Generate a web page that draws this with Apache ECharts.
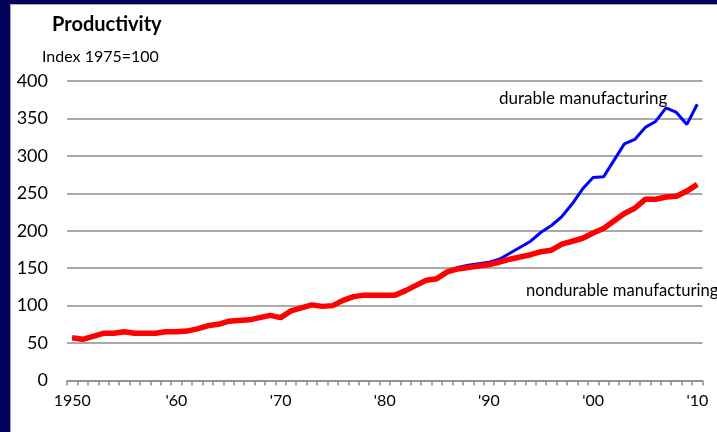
<!DOCTYPE html>
<html>
<head>
<meta charset="utf-8">
<script src="https://cdn.jsdelivr.net/npm/echarts@6/dist/echarts.min.js"></script>
<style>
html,body{margin:0;padding:0;width:717px;height:432px;overflow:hidden;background:#03035e;}
#panel{position:absolute;left:10px;top:4px;width:707px;height:428px;background:#fff;border-left:1px solid #a8a8a8;border-top:1px solid #a8a8a8;}
#chart{position:absolute;left:0;top:0;width:717px;height:432px;}
</style>
</head>
<body>
<div id="panel"></div>
<div id="chart"></div>
<script>
const years = [];
for (let y = 1950; y <= 2010; y++) years.push(String(y));

const nondurable = [57,55,59,63,63,65,63,63,63,65,65,66,69,73,75,79,80,81,84,87,84,93,97,101,99,100,107,112,114,114,114,114,120,127,134,136,145,149,151,153,155,158,162,165,168,172,174,182,186,190,197,203,213,223,230,242,242,245,246,253,262];
const durable = [57,55,59,63,63,65,63,63,63,65,65,66,69,73,75,79,80,81,84,87,84,93,97,101,99,100,107,112,114,114,114,114,120,127,134,136,145,151,154,156,158,162,170,178,186,198,207,219,236,256,271,272,294,316,322,338,346,364,358,342,369];

const yTicks = [0,50,100,150,200,250,300,350,400];
const FONT = 'Lato';

const chart = echarts.init(document.getElementById('chart'), null, {renderer:'canvas'});
chart.setOption({
  backgroundColor: 'transparent',
  animation: false,
  textStyle: {fontFamily: FONT},
  grid: {left: 67, right: 14.5, top: 81, bottom: 51.5, containLabel: false},
  xAxis: {
    type: 'category',
    data: years,
    boundaryGap: true,
    axisLine: {lineStyle: {color: '#8c8c8c', width: 1.5}},
    axisTick: {show: true, interval: 0, length: 5, lineStyle: {color: '#8c8c8c', width: 1.5}},
    axisLabel: {
      interval: function (i, v) { return (+v) % 10 === 0; },
      formatter: function (v) { return v === '1950' ? '1950' : "'" + v.slice(2); },
      color: '#000', fontSize: 16, margin: 12, fontFamily: FONT
    },
    splitLine: {show: false}
  },
  yAxis: {
    type: 'value',
    min: 0, max: 400, interval: 50,
    axisLine: {show: false},
    axisTick: {show: false},
    axisLabel: {color: '#000', fontSize: 18, margin: 19, fontFamily: FONT},
    splitLine: {lineStyle: {color: '#8c8c8c', width: 1.5}}
  },
  series: [
    {name: 'durable manufacturing', type: 'line', data: durable, showSymbol: false,
     lineStyle: {color: '#0000ff', width: 3}, z: 2},
    {name: 'nondurable manufacturing', type: 'line', data: nondurable, showSymbol: false,
     lineStyle: {color: '#ff0000', width: 5.5}, z: 3}
  ],
  graphic: [
    {type: 'text', left: 52, top: 15, style: {text: 'Productivity', font: 'bold 20px ' + FONT, fill: '#000'}},
    {type: 'text', left: 42, top: 49, style: {text: 'Index 1975=100', font: '16px ' + FONT, fill: '#000'}},
    {type: 'text', left: 499, top: 90, style: {text: 'durable manufacturing', font: '17px ' + FONT, fill: '#000'}},
    {type: 'text', left: 526, top: 282, style: {text: 'nondurable manufacturing', font: '16.6px ' + FONT, fill: '#000'}}
  ]
});
</script>
</body>
</html>
